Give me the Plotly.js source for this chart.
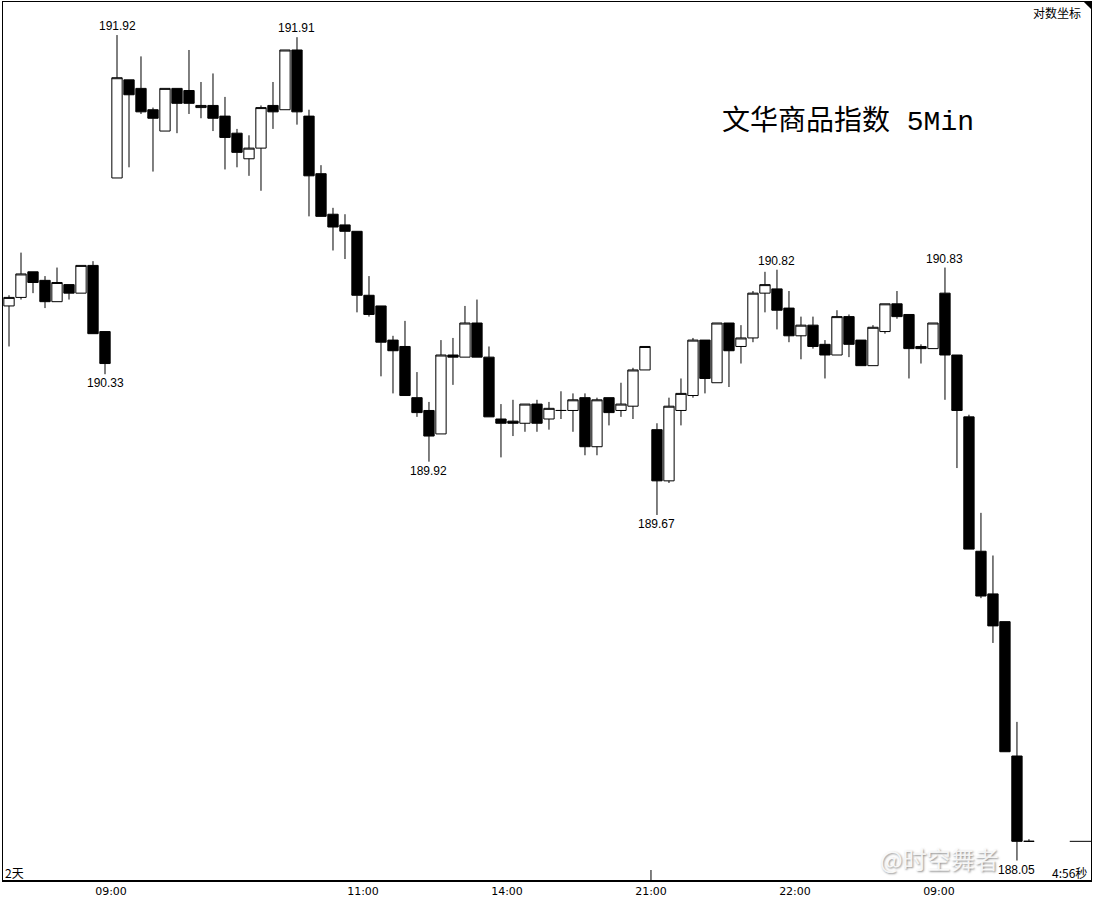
<!DOCTYPE html>
<html>
<head>
<meta charset="utf-8">
<script src="https://cdn.plot.ly/plotly-3.0.1.min.js"></script>
<style>
  html, body { margin: 0; padding: 0; background: #fff; }
  #chart { width: 1093px; height: 901px; }
</style>
</head>
<body>
<div id="chart"></div>
<script>
// ---- data (5-minute bars) ----
const openP  = [190.65,190.69,190.81,190.77,190.67,190.75,190.71,190.84,190.53,
  191.25,191.71,191.67,191.57,191.47,191.67,191.66,191.58,191.59,191.54,191.46,191.34,191.39,191.59,191.57,191.85,
  191.54,191.27,191.08,191.03,191.00,190.70,190.65,190.49,190.46,190.22,190.16,190.05,190.42,190.41,190.57,
  190.41,190.12,190.11,190.10,190.19,190.12,190.16,190.16,190.22,189.99,190.22,190.16,190.18,190.35,
  190.07,189.83,190.16,190.23,190.49,190.29,190.57,190.46,190.50,190.71,190.73,190.64,190.51,190.56,190.47,190.42,
  190.60,190.49,190.37,190.53,190.66,190.61,190.46,190.45,190.71,190.42,190.13,189.50,189.30,189.17,188.54,188.14];
const highP  = [190.70,190.90,190.81,190.79,190.83,190.75,190.84,190.86,190.53,
  191.92,191.71,191.82,191.58,191.67,191.67,191.85,191.70,191.74,191.63,191.48,191.45,191.59,191.70,191.85,191.91,
  191.57,191.31,191.11,191.08,191.00,190.79,190.65,190.51,190.58,190.34,190.20,190.49,190.50,190.65,190.68,
  190.46,190.19,190.21,190.19,190.21,190.20,190.25,190.24,190.24,190.22,190.22,190.29,190.36,190.46,
  190.10,190.22,190.31,190.50,190.49,190.57,190.57,190.56,190.72,190.81,190.82,190.72,190.60,190.60,190.49,190.63,
  190.61,190.49,190.56,190.66,190.72,190.61,190.47,190.57,190.83,190.42,190.14,189.68,189.48,189.17,188.70,188.15];
const lowP   = [190.46,190.68,190.71,190.64,190.67,190.68,190.71,190.52,190.33,
  191.25,191.30,191.55,191.28,191.47,191.46,191.55,191.53,191.47,191.29,191.30,191.26,191.19,191.48,191.57,191.50,
  191.07,191.07,190.91,190.87,190.62,190.60,190.32,190.24,190.23,190.13,189.92,190.05,190.28,190.41,190.41,
  190.13,189.94,190.04,190.06,190.06,190.07,190.12,190.06,189.95,189.95,190.09,190.13,190.12,190.35,
  189.67,189.82,190.09,190.22,190.24,190.29,190.27,190.38,190.48,190.62,190.54,190.48,190.40,190.45,190.31,190.42,
  190.41,190.37,190.37,190.52,190.59,190.31,190.38,190.45,190.21,189.89,189.51,189.28,189.07,188.56,188.05,188.14];
const closeP = [190.69,190.80,190.76,190.67,190.76,190.71,190.84,190.52,190.38,
  191.72,191.64,191.56,191.53,191.67,191.60,191.60,191.59,191.53,191.44,191.37,191.39,191.58,191.56,191.85,191.56,
  191.26,191.07,191.02,191.00,190.70,190.61,190.48,190.44,190.23,190.15,190.04,190.42,190.41,190.57,190.41,
  190.13,190.10,190.10,190.19,190.10,190.17,190.16,190.21,189.99,190.21,190.15,190.19,190.35,190.46,
  189.83,190.18,190.24,190.49,190.31,190.57,190.44,190.50,190.71,190.75,190.63,190.51,190.56,190.46,190.42,190.60,
  190.47,190.37,190.55,190.66,190.60,190.45,190.45,190.57,190.42,190.16,189.51,189.29,189.15,188.56,188.14,188.14];

const tickPos   = [8.5, 29.5, 41.5, 53.5, 65.5, 77.5];
const tickText  = ['09:00', '11:00', '14:00', '21:00', '22:00', '09:00'];
const highMarks = [9, 24, 64, 78];
const lowMarks  = [8, 35, 54, 84];

const idx = openP.map((_, i) => i);

const trace = {
  type: 'candlestick',
  x: idx, open: openP, high: highP, low: lowP, close: closeP,
  increasing: { line: { color: '#000', width: 1 }, fillcolor: '#fff' },
  decreasing: { line: { color: '#000', width: 1 }, fillcolor: '#000' },
  whiskerwidth: 0,
  hoverinfo: 'skip',
  showlegend: false
};

const labFont = { family: 'Liberation Sans, Arial, sans-serif', size: 12, color: '#000' };
const annotations = [];
highMarks.forEach(i => annotations.push({
  x: i, y: highP[i], xref: 'x', yref: 'y', text: highP[i].toFixed(2),
  showarrow: false, yanchor: 'bottom', xanchor: 'center', yshift: 0, font: labFont
}));
lowMarks.forEach(i => annotations.push({
  x: i, y: lowP[i], xref: 'x', yref: 'y', text: lowP[i].toFixed(2),
  showarrow: false, yanchor: 'top', xanchor: 'center', yshift: 0, font: labFont
}));

annotations.push({
  xref: 'paper', yref: 'paper', x: 0.7767, y: 0.8646, xanchor: 'center', yanchor: 'middle',
  text: '文华商品指数 5Min', showarrow: false,
  font: { family: 'Liberation Mono, Noto Sans CJK SC, monospace', size: 28, color: '#000' }
});
annotations.push({
  xref: 'paper', yref: 'paper', x: 0.9925, y: 0.9875, xanchor: 'right', yanchor: 'middle',
  text: '对数坐标', showarrow: false,
  font: { family: 'Noto Sans CJK SC, sans-serif', size: 12, color: '#000' }
});
annotations.push({
  xref: 'paper', yref: 'paper', x: 0.0, y: 0.0102, xanchor: 'left', yanchor: 'middle',
  text: '2天', showarrow: false,
  font: { family: 'Noto Sans CJK SC, sans-serif', size: 12, color: '#000' }
});
annotations.push({
  xref: 'paper', yref: 'paper', x: 0.9985, y: 0.0102, xanchor: 'right', yanchor: 'middle',
  text: '4:56秒', showarrow: false,
  font: { family: 'Noto Sans CJK SC, sans-serif', size: 12, color: '#000' }
});
annotations.push({
  xref: 'paper', yref: 'paper', x: 0.861, y: 0.026, xanchor: 'center', yanchor: 'middle',
  text: '@时空舞者', showarrow: false,
  font: { family: 'Noto Sans CJK SC, sans-serif', size: 24, color: 'rgba(255,255,255,0.85)',
          shadow: '1px 1px 2px rgba(90,90,90,0.8)' }
});

const shapes = [
  // last price marker on the right
  { type: 'line', xref: 'x', yref: 'y', x0: 88.4, x1: 90.17, y0: closeP[closeP.length - 1], y1: closeP[closeP.length - 1],
    line: { color: '#000', width: 1 } },
  // tick at 21:00
  { type: 'line', xref: 'x', yref: 'paper', x0: 53.5, x1: 53.5, y0: 0, y1: 0.0125, line: { color: '#000', width: 1 } },
  // corner triangle
  { type: 'path', xref: 'paper', yref: 'paper', path: 'M 1,1 L 0.9935,1 L 1,0.992 Z',
    fillcolor: '#000', line: { color: '#000', width: 0 } },
  // heavier bottom edge
  { type: 'line', xref: 'paper', yref: 'paper', x0: 0, x1: 1, y0: 0, y1: 0, line: { color: '#000', width: 2 } }
];

const layout = {
  width: 1093, height: 901,
  margin: { l: 3, r: 2, t: 2, b: 20, pad: 0 },
  paper_bgcolor: '#fff', plot_bgcolor: '#fff',
  boxgap: 0.14, boxgroupgap: 0,
  showlegend: false,
  xaxis: {
    type: 'linear', range: [-0.5, 90.17], fixedrange: true,
    rangeslider: { visible: false },
    tickmode: 'array', tickvals: tickPos, ticktext: tickText, ticks: '',
    tickfont: { family: 'DejaVu Sans, sans-serif', size: 11, color: '#000' },
    showgrid: false, zeroline: false,
    showline: true, linecolor: '#000', linewidth: 1, mirror: true
  },
  yaxis: {
    range: [187.954, 192.075], fixedrange: true,
    showticklabels: false, ticks: '', showgrid: false, zeroline: false,
    showline: true, linecolor: '#000', linewidth: 1, mirror: true
  },
  annotations: annotations,
  shapes: shapes
};

Plotly.newPlot('chart', [trace], layout, { staticPlot: true, displayModeBar: false });
</script>
</body>
</html>
